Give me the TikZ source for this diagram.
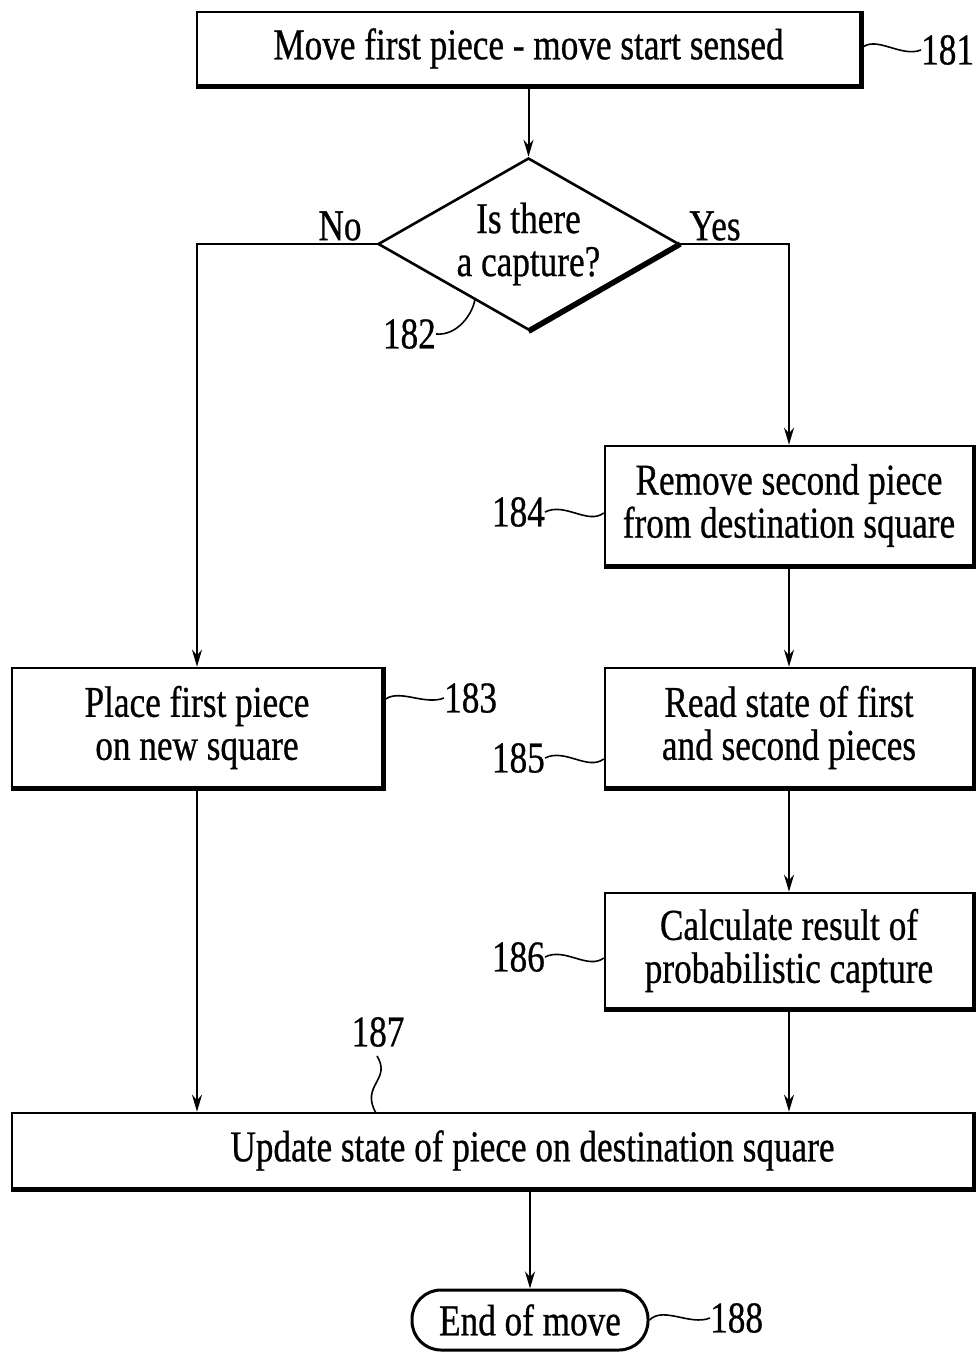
\documentclass[tikz,border=0pt]{standalone}
\usepackage{fontspec}
\setmainfont[FakeStretch=0.8,FakeBold=0.6]{Liberation Serif}
\usetikzlibrary{shapes.geometric,arrows.meta}

\begin{document}
\begin{tikzpicture}[x=1pt,y=-1pt,
  every node/.style={font=\fontsize{44}{43}\selectfont},
  stepbox/.style={draw, line width=2.6pt, inner sep=0pt, align=center},
  heavy/.style={line width=5.5pt},
  flow/.style={line width=2pt, -{Stealth[length=17pt,width=10pt]}},
  lead/.style={line width=1.6pt},
  tag/.style={inner sep=0pt, anchor=west},
  tagl/.style={inner sep=0pt, anchor=east},
]
\useasboundingbox (0,0) rectangle (976,1352);

% process steps
\node[stepbox, minimum width=663pt, minimum height=73pt] (b181) at (528.5,48.5)
  {Move first piece - move start sensed};
\node[draw, diamond, line width=2.6pt, inner sep=0pt, aspect=1.75,
  minimum width=301pt, minimum height=172pt, align=center] (dia) at (528.5,244)
  {Is there\\a capture?};
\node[stepbox, minimum width=368pt, minimum height=119pt] (b184) at (789,505.5)
  {Remove second piece\\from destination square};
\node[stepbox, minimum width=370pt, minimum height=119pt] (b183) at (197,727.5)
  {Place first piece\\on new square};
\node[stepbox, minimum width=368pt, minimum height=119pt] (b185) at (789,727.5)
  {Read state of first\\and second pieces};
\node[stepbox, minimum width=368pt, minimum height=115pt] (b186) at (789,950.5)
  {Calculate result of\\probabilistic capture};
\node[stepbox, minimum width=961pt, minimum height=75pt] (b187) at (492.5,1150.5)
  {\hspace*{80pt}Update state of piece on destination square};
\node[draw, line width=3pt, rounded corners=29pt, inner sep=0pt,
  minimum width=236pt, minimum height=60pt] (t188) at (530,1320) {End of move};

% heavier lower and right edges
\foreach \b in {b181,b184,b183,b185,b186,b187}
  \draw[heavy] (\b.north east) -- (\b.south east) -- (\b.south west);
\draw[heavy] (dia.east) -- (dia.south);

% connectors
\draw[flow] (b181.south) -- (dia.north);
\draw[flow] (dia.west) -| (b183.north);
\draw[flow] (dia.east) -| (b184.north);
\draw[flow] (b184.south) -- (b185.north);
\draw[flow] (b185.south) -- (b186.north);
\draw[flow] (b183.south) -- (b183.south |- b187.north);
\draw[flow] (b186.south) -- (b186.south |- b187.north);
\draw[flow] (b187.south -| t188.north) -- (t188.north);

% branch labels
\node[inner sep=0pt] (no) at (340,226) {No};
\node[inner sep=0pt] (yes) at (715,226) {Yes};

% reference numerals with leaders
\node[tag] (n181) at (921,50) {181};
\draw[lead] (b181.east) .. controls +(14,-14) and +(-20,8) .. (n181.west);
\node[tagl] (n182) at (436,334) {182};
\coordinate (p182) at (475,299);
\draw[lead] (n182.east) .. controls +(22,2) and +(-2,14) .. (p182);
\node[tag] (n183) at (444,698) {183};
\draw[lead] (b183.east |- 0,701) .. controls +(14,-14) and +(-20,8) .. (n183.west);
\node[tagl] (n184) at (545,512) {184};
\draw[lead] (n184.east) .. controls +(20,-10) and +(-16,12) .. (b184.west |- 0,513);
\node[tagl] (n185) at (545,758) {185};
\draw[lead] (n185.east) .. controls +(20,-10) and +(-16,12) .. (b185.west |- 0,759);
\node[tagl] (n186) at (545,957) {186};
\draw[lead] (n186.east) .. controls +(20,-10) and +(-16,12) .. (b186.west |- 0,958);
\node[inner sep=0pt] (n187) at (378,1032) {187};
\coordinate (p187) at (376,1113);
\draw[lead] (377,1056) .. controls (392,1080) and (360,1085) .. (p187);
\node[tag] (n188) at (710,1318) {188};
\draw[lead] (t188.east) .. controls +(14,-14) and +(-20,8) .. (n188.west);
\end{tikzpicture}
\end{document}
